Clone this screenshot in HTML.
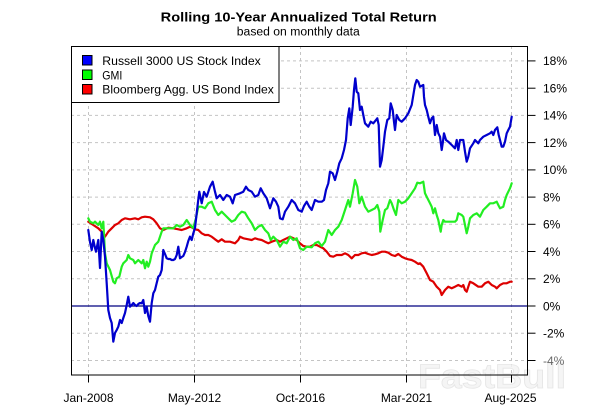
<!DOCTYPE html>
<html>
<head>
<meta charset="utf-8">
<style>
html,body{margin:0;padding:0;background:#fff;}
svg{display:block;}
text{font-family:"Liberation Sans",Arial,sans-serif;}
</style>
</head>
<body>
<svg width="600" height="411" viewBox="0 0 600 411" xmlns="http://www.w3.org/2000/svg">
<rect x="0" y="0" width="600" height="411" fill="#fff"/>
<!-- title -->
<text x="298.7" y="21.5" font-size="13" font-weight="bold" text-anchor="middle" textLength="276" lengthAdjust="spacingAndGlyphs" fill="#000">Rolling 10-Year Annualized Total Return</text>
<text x="298.3" y="35.5" font-size="11.5" text-anchor="middle" textLength="123" lengthAdjust="spacingAndGlyphs" fill="#000">based on monthly data</text>

<!-- grid -->
<g stroke="#c4c4c4" stroke-width="1" stroke-dasharray="3,3" fill="none">
<line x1="71" y1="60.9" x2="527" y2="60.9"/>
<line x1="71" y1="88.2" x2="527" y2="88.2"/>
<line x1="71" y1="115.4" x2="527" y2="115.4"/>
<line x1="71" y1="142.6" x2="527" y2="142.6"/>
<line x1="71" y1="169.9" x2="527" y2="169.9"/>
<line x1="71" y1="197.1" x2="527" y2="197.1"/>
<line x1="71" y1="224.3" x2="527" y2="224.3"/>
<line x1="71" y1="251.5" x2="527" y2="251.5"/>
<line x1="71" y1="278.8" x2="527" y2="278.8"/>
<line x1="71" y1="333.2" x2="527" y2="333.2"/>
<line x1="71" y1="360.5" x2="527" y2="360.5"/>
<line x1="88.5" y1="46" x2="88.5" y2="375"/>
<line x1="194.5" y1="46" x2="194.5" y2="375"/>
<line x1="300.5" y1="46" x2="300.5" y2="375"/>
<line x1="406.5" y1="46" x2="406.5" y2="375"/>
<line x1="511.5" y1="46" x2="511.5" y2="375"/>
</g>

<!-- zero line -->
<line x1="71" y1="306" x2="527" y2="306" stroke="#000080" stroke-width="1.2"/>

<!-- series -->
<g fill="none" stroke-width="2.2" stroke-linejoin="round" stroke-linecap="round">
<polyline stroke="#dd0000" points="88.3,221.7 93.3,225 98.3,228.3 101.7,231.7 105,236.7 108.3,231.7 111.7,228.3 115,225 118.3,223.3 121.7,220 125,218.3 130,219.3 135,218.3 138.3,219.3 141.7,217.3 145,216.7 150,217.3 153.3,219.3 156.7,223.3 160,228.3 163.3,230 168.3,227.7 173.3,228.3 178.3,229.3 181.7,230 186.7,228.3 190,226.7 191.7,227.3 195,229.3 198.3,230 201.7,233.3 205,235 208.3,235 211.7,236.7 215,239.3 218.3,241.7 221.7,239.3 225,241.7 230,241.7 235,243.3 238.3,240 240,236.7 243.3,238.3 248.3,239.3 251.7,240 255,238.3 258.3,239.3 261.7,240 265,241.7 268.3,243.3 271.7,241.7 276.7,240 280,241.7 283.3,240 286.7,238.3 290,236.7 293.3,238.3 296.7,240 300,243.3 303.3,246 306.7,246.7 310,246.7 313.3,245 316.7,245 320,246.7 323.3,248.3 326.7,251.7 330,256 333.3,256.7 336.7,255 341.7,255 345,253.3 348.3,255 351.7,258.3 355,255 358.3,255 361.7,253.3 365,252.7 368.3,254 371.7,255 375,254.3 378.3,253.3 381.7,251.7 385,251.7 388.3,252.7 391.7,255 395,256 398.3,254 401.7,256.7 405,258.3 408.3,259.3 411.7,260 415,261.7 418.3,264 420,263.3 423.3,266.7 426.7,273.3 430,280 433.3,281.7 436.7,286.7 440,290 441.7,295 445,290 448.3,286.7 451.7,288.3 455,286.7 458.3,285 461.7,286.7 463.3,285 465,290 466.7,291.7 468.3,286.7 470,281.7 473.3,283.3 478.3,286.7 481.7,286.7 485,283.3 488.3,281.7 491.7,285 495,286.7 496.7,288.3 500,285 503.3,283.3 506.7,283.3 510,281.7 511.7,281.7"/>
<polyline stroke="#22ee22" points="88.3,218.3 90,221.7 93.3,223.3 95,221.7 98.3,225 100,221.7 101.7,228.3 103.3,221.7 105,253.3 106.7,263.3 110,270 113.3,281.7 115,283.3 116.7,278.3 119.3,276.7 121.7,266.7 123.3,263.3 126.7,260 128.3,255 130,258.3 133.3,260 135,263.3 138.3,260 141.7,263.3 143.3,260 145,268.3 146.7,261.7 148.3,266.7 150,261.7 151.7,253.3 155,245 158.3,241.7 161.7,231.7 163.3,228.3 166.7,228.3 173.3,228.3 176.7,225 180,226.7 183.3,225 186.7,220 190,225 193.3,228 196,218 198.3,206.7 201.7,206.7 205,208.3 208.3,203.3 211.7,201.7 215,210 218.3,215 221.7,211.7 225,215 228.3,218.3 231.7,221.7 235,220 238.3,215 241.7,211.7 245,212.7 248.3,218.3 251.7,223.3 255,230 258.3,226.7 261.7,225 265,230 268.3,233.3 270.7,240 273.3,236.7 276.7,240 280,246.7 283.3,241.7 286.7,243.3 290,236.7 293.3,240 296.7,238.3 300,248.3 303.3,250 306.7,246.7 311.7,247.3 315,243.3 318.3,241.7 321.7,246 325,241.7 328.3,230 331.7,235 335,230 338.3,226.7 341.7,220 345,210 348.3,200 350,206.7 352.7,193.3 355,180 357.3,186.7 359.3,203.3 361.7,196.7 365,206.7 368.3,211.7 371.7,210 375,208.3 377.3,205 379.3,211.7 380.3,231.7 382.7,220 385,210 387.3,208.3 390,200 391.7,203.3 394,210 396,215 398.3,200 401.7,203.3 405,201.7 408.3,198.3 411.7,193.3 415,188.3 417.3,182.7 420,183.3 423.3,181.7 425,193.3 426.7,196.7 430,203.3 431.7,206.7 433.3,213.3 435,208.3 436.7,215 438.3,220 440.7,231.7 441.7,225 443.3,220 445,221.7 448.3,221.7 451.7,221.7 455,221.7 456.7,220 458.3,213.3 461.7,215 463.3,216.7 465,225 466.7,233.3 468.3,226.7 470,218.3 473.3,215 476.7,213.3 480,216.7 483.3,210 486.7,206.7 490,203.3 493.3,203.3 496.7,201.7 498.3,205 500,208.3 503.3,206.7 505,200 506.7,195 508.3,191.7 510,188.3 511.7,183.3"/>
<polyline stroke="#0000cd" points="88.3,230 90,242 91.7,250 93.3,240 95,248 96,251.7 98.3,240 100,268 101.7,231.7 103.3,240 105,256.7 106.7,283.3 108.3,310 110,318 111.7,323 113.3,341.7 115,333 116.7,330 118.3,326.7 120,320 121.7,323 123.3,318 125,313 126.7,305 128.3,296.7 130,306.7 131.7,305 133.3,303 135,305 136.7,306 138.3,304 140,303 141.7,303.3 143.3,300 145,313 146.7,307 148.3,316 150,321.7 151.7,303 153.3,293.3 155,290 156.7,283 158.3,276.7 160,275 161.7,270 163.3,250 165,254 166.7,258.3 168.3,259 170,259 171.7,260 173.3,260 175,259 176.7,255 178.3,246.7 180,258.3 181.7,257 183.3,256 185,252 186.7,246.7 188.3,241 190,236.7 191.7,240 193.3,233.3 195,228 196.7,213.3 198,202 199.3,191.7 201.7,203.3 204,192 206.7,196.7 210,186.7 212.7,181.7 215,191.7 216.7,198.3 220,195 223.3,200 226.7,195 230,196.7 232.7,203.3 235,195 240,193.3 243.3,191.7 246,186.7 248.3,190 251.7,191.7 255,196.7 258.3,195 260.7,188.3 263.3,193.3 266.7,198.3 270,208.3 273.3,198.3 276,201.7 278.3,206.7 280,218.3 282.7,219.3 285,211.7 288.3,206.7 291.7,200 295,203.3 298.3,210 301.7,211.7 304,206 306.7,201.7 309.3,206.7 311.7,210 315,200 318.3,201.7 321.7,201.7 324,200 326,190 328.3,183.3 330,171.7 332.7,173.3 335,180 337.3,171.7 339.3,163.3 341.7,158.3 344,150 346,140 347.7,118.3 349.3,108.3 350.7,125 352.7,106.7 354,90 355.3,78.3 356.7,91.7 358.3,93.3 360,110 361.7,106.7 363.3,115 365,123.3 368.3,126.7 370.7,121.7 373.3,123.3 376,120 377.3,118.3 378.7,125 380,166.7 381.7,160 383.3,146.7 385,131.7 387.3,120 389.3,118.3 390.7,103.3 392.7,110 394,121.7 395,130 396.7,115 399.3,120 401.7,121.7 405,118.3 408.3,113.3 411.7,105 415,85 416.7,80 418.3,81.7 420,86.7 423.3,85 424,96.7 425,105 426.7,110 428.3,116.7 430,123.3 431.7,118.3 433.3,116.7 435,135 436.7,125 438.3,133.3 440,136.7 441.7,150 442.7,143.3 444,133.3 446,140 448.3,141.7 451.7,145 455,148.3 456.7,140 458.3,150 460,140 463.3,140 465,151.7 466.7,161.7 468.3,156.7 470,148.3 473.3,143.3 475,140 478.3,143.3 480,140 483.3,136.7 486.7,135 490,133.3 491.7,131.7 493.3,135 495,130 497.3,127.3 498.7,135 500,140 501.7,146.7 503.3,146.7 505,141.7 506.7,133.3 508.3,130 510,126.7 511.7,116.7"/>
</g>

<!-- legend -->
<rect x="71.5" y="46.5" width="207.5" height="56" fill="#fff" stroke="#000" stroke-width="1"/>
<rect x="82.5" y="55.5" width="9.5" height="9.5" fill="#0000ff" stroke="#000" stroke-width="1"/>
<rect x="82.5" y="70" width="9.5" height="9.5" fill="#00ff00" stroke="#000" stroke-width="1"/>
<rect x="82.5" y="84.5" width="9.5" height="9.5" fill="#ff0000" stroke="#000" stroke-width="1"/>
<g font-size="12" fill="#000">
<text x="102.3" y="65" textLength="158.5" lengthAdjust="spacingAndGlyphs">Russell 3000 US Stock Index</text>
<text x="102.3" y="79.3" textLength="20" lengthAdjust="spacingAndGlyphs">GMI</text>
<text x="102.3" y="93.6" textLength="171.5" lengthAdjust="spacingAndGlyphs">Bloomberg Agg. US Bond Index</text>
</g>

<!-- watermark -->
<text x="418" y="388" font-size="34" font-weight="bold" fill="#f3f3f3" stroke="#e6e6e6" stroke-width="0.8" fill-opacity="0.8" textLength="148" lengthAdjust="spacingAndGlyphs">FastBull</text>

<!-- plot box -->
<rect x="71.5" y="46.5" width="456" height="328.5" fill="none" stroke="#000" stroke-width="1"/>

<!-- ticks -->
<g stroke="#000" stroke-width="1">
<line x1="527.5" y1="60.9" x2="535.5" y2="60.9"/>
<line x1="527.5" y1="88.2" x2="535.5" y2="88.2"/>
<line x1="527.5" y1="115.4" x2="535.5" y2="115.4"/>
<line x1="527.5" y1="142.6" x2="535.5" y2="142.6"/>
<line x1="527.5" y1="169.9" x2="535.5" y2="169.9"/>
<line x1="527.5" y1="197.1" x2="535.5" y2="197.1"/>
<line x1="527.5" y1="224.3" x2="535.5" y2="224.3"/>
<line x1="527.5" y1="251.5" x2="535.5" y2="251.5"/>
<line x1="527.5" y1="278.8" x2="535.5" y2="278.8"/>
<line x1="527.5" y1="306" x2="535.5" y2="306"/>
<line x1="527.5" y1="333.2" x2="535.5" y2="333.2"/>
<line x1="527.5" y1="360.5" x2="535.5" y2="360.5"/>
<line x1="88.5" y1="375" x2="88.5" y2="382.5"/>
<line x1="194.5" y1="375" x2="194.5" y2="382.5"/>
<line x1="300.5" y1="375" x2="300.5" y2="382.5"/>
<line x1="406.5" y1="375" x2="406.5" y2="382.5"/>
<line x1="511.5" y1="375" x2="511.5" y2="382.5"/>
</g>
<g font-size="12" fill="#000">
<text x="543" y="65.2">18%</text>
<text x="543" y="92.5">16%</text>
<text x="543" y="119.7">14%</text>
<text x="543" y="146.9">12%</text>
<text x="543" y="174.2">10%</text>
<text x="543" y="201.4">8%</text>
<text x="543" y="228.6">6%</text>
<text x="543" y="255.8">4%</text>
<text x="543" y="283.1">2%</text>
<text x="543" y="310.3">0%</text>
<text x="543" y="337.5">-2%</text>
<text x="543" y="364.8" fill-opacity="0.6">-4%</text>
</g>
<g font-size="12" fill="#000" text-anchor="middle">
<text x="88.5" y="402">Jan-2008</text>
<text x="194.5" y="402">May-2012</text>
<text x="300.5" y="402">Oct-2016</text>
<text x="406.5" y="402">Mar-2021</text>
<text x="510.5" y="402">Aug-2025</text>
</g>
</svg>
</body>
</html>
